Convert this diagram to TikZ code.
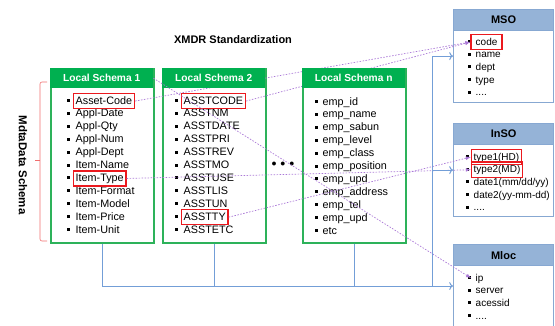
\documentclass[tikz,border=0pt]{standalone}
\usepackage{fontspec}
\setmainfont{Liberation Sans}
\usetikzlibrary{arrows.meta,calc,positioning,fit}
\definecolor{lsgreen}{RGB}{0,176,80}
\definecolor{lsedge}{RGB}{45,178,90}
\definecolor{sohead}{RGB}{149,179,215}
\definecolor{soedge}{RGB}{135,168,210}
\definecolor{busblue}{RGB}{115,158,215}
\definecolor{maplila}{RGB}{170,120,215}
\definecolor{hlred}{RGB}{235,25,30}
\definecolor{bracered}{RGB}{240,110,110}
\newcommand{\etcdots}{....}

\tikzset{
  lsbox/.style={draw=lsedge, line width=1.5pt, fill=white, minimum width=103pt,
    minimum height=174pt, anchor=north west, inner sep=0pt},
  lshead/.style={fill=lsgreen, text=white, font=\bfseries\fontsize{10.2}{12}\selectfont,
    minimum width=103pt, minimum height=20pt, anchor=north west, inner sep=0pt},
  sobox/.style={draw=soedge, line width=1.2pt, fill=white, minimum width=100pt,
    anchor=north west, inner sep=0pt},
  sohd/.style={draw=soedge, line width=1.2pt, fill=sohead, font=\bfseries\fontsize{11}{12}\selectfont,
    minimum width=100pt, minimum height=21pt, anchor=north west, inner sep=0pt},
  item/.style={anchor=base west, inner sep=0.5pt, text height=8.3pt, text depth=2.4pt,
    font=\fontsize{10.8}{12}\selectfont},
  sitem/.style={item, font=\fontsize{10}{12}\selectfont},
  hl/.style={draw=hlred, line width=1.5pt, inner sep=1.5pt},
  bus/.style={draw=busblue, line width=1pt},
  map/.style={draw=maplila, line width=0.7pt, dash pattern=on 1.5pt off 1.5pt},
}

\begin{document}
\begin{tikzpicture}[x=1pt, y=-1pt]
\clip (0,0) rectangle (555,325);

\node[font=\bfseries\fontsize{11}{13}\selectfont] (title) at (233,40) {XMDR Standardization};

%----- local schemas (bodies and items) -----
\node[lsbox] (ls1) at (50,68) {};
\node[lsbox] (ls2) at (162,68) {};
\node[lsbox] (lsn) at (302,68) {};

\foreach \t [count=\i] in {Asset-Code, Appl-Date, Appl-Qty, Appl-Num, Appl-Dept, Item-Name,
    Item-Type, Item-Format, Item-Model, Item-Price, Item-Unit} {
  \node[item] (a\i) at (75,{104+12.9*(\i-1)}) {\t};
  \fill (a\i.base west) ++(-8,-5) rectangle ++(3,3);
}
\foreach \t [count=\i] in {ASSTCODE, ASSTNM, ASSTDATE, ASSTPRI, ASSTREV, ASSTMO,
    ASSTUSE, ASSTLIS, ASSTUN, ASSTTY, ASSTETC} {
  \node[item] (b\i) at (183,{104+12.9*(\i-1)}) {\t};
  \fill (b\i.base west) ++(-8,-5) rectangle ++(3,3);
}
\foreach \t [count=\i] in {emp\_id, emp\_name, emp\_sabun, emp\_level, emp\_class, emp\_position,
    emp\_upd, emp\_address, emp\_tel, emp\_upd, etc} {
  \node[item] (n\i) at (322,{105+12.9*(\i-1)}) {\t};
  \fill (n\i.base west) ++(-7,-5) rectangle ++(3,3);
}

%----- standard objects -----
\node[sobox, minimum height=93pt] (mso) at (453,9) {};
\node[sobox, minimum height=93pt] (inso) at (453,123) {};
\node[sobox, minimum height=100pt] (mloc) at (453,244) {};
\node[sohd] (msoh) at (453,9) {MSO};
\node[sohd] (insoh) at (453,123) {InSO};
\node[sohd] (moch) at (453,244) {Mloc};

\foreach \t [count=\i] in {code, name, dept, type, \etcdots} {
  \node[sitem] (m\i) at (475,{45+12.7*(\i-1)}) {\t};
  \fill (m\i.base west) ++(-7,-5) rectangle ++(3,3);
}
\foreach \t [count=\i] in {type1(HD), type2(MD), date1(mm/dd/yy), date2(yy-mm-dd), \etcdots} {
  \node[sitem] (s\i) at (473,{160+12.7*(\i-1)}) {\t};
  \fill (s\i.base west) ++(-7,-5) rectangle ++(3,3);
}
\foreach \t [count=\i] in {ip, server, acessid, \etcdots} {
  \node[sitem] (l\i) at (475,{281+12.7*(\i-1)}) {\t};
  \fill (l\i.base west) ++(-7,-5) rectangle ++(3,3);
}

% red marks on the mapped items
\node[hl, fit=(a1)] (ha1) {};
\node[hl, fit=(a7)] (ha7) {};
\node[hl, fit=(b1)] (hb1) {};
\node[hl, fit=(b10)] (hb10) {};
\node[hl, fit=(m1), inner xsep=4pt] (hm1) {};
\node[hl, fit=(s1)] (hs1) {};
\node[hl, fit=(s2)] (hs2) {};

% mappings hidden by the green headers
\draw[map, -latex] (ha1.east) -- (hm1.west);
\draw[map, -latex] (hb1.east) -- (hm1.west);

%----- green headers -----
\node[lshead] (ls1h) at (50,68) {Local Schema 1};
\node[lshead] (ls2h) at (162,68) {Local Schema 2};
\node[lshead] (lsnh) at (302,68) {Local Schema n};

\node (dots) at (283,164) {$\bullet\,\bullet\,\bullet$};

% mappings on top
\draw[map, -latex] (ls1h.east) -- ([xshift=-4pt]l1.west);
\draw[map, -latex] (ha7.east) -- (hs2.west);
\draw[map, -latex] (hb10.east) -- (hs1.west);

%----- bus to the standard objects -----
\coordinate (busy) at (432,286);
\draw[bus] (ls1.south) |- (busy);
\draw[bus] (ls2.south) -- (ls2.south |- busy);
\draw[bus] (lsn.south) -- (lsn.south |- busy);
\draw[bus, ->] (busy) -- (mloc.west |- busy);
\draw[bus, ->] (busy) |- (mso.west);
\draw[bus, ->] (busy |- inso.west) -- (inso.west);

%----- brace and side label -----
\draw[bracered, line width=0.6pt, rounded corners=2pt] (47,82) -- (40,82) -- (40,241) -- (47,241);
\draw[bracered, line width=0.6pt] (40,160) -- (35,160);
\node[rotate=-90, font=\bfseries\fontsize{11.5}{13}\selectfont] (side) at (23,165) {MdtaData Schema};
\end{tikzpicture}
\end{document}
